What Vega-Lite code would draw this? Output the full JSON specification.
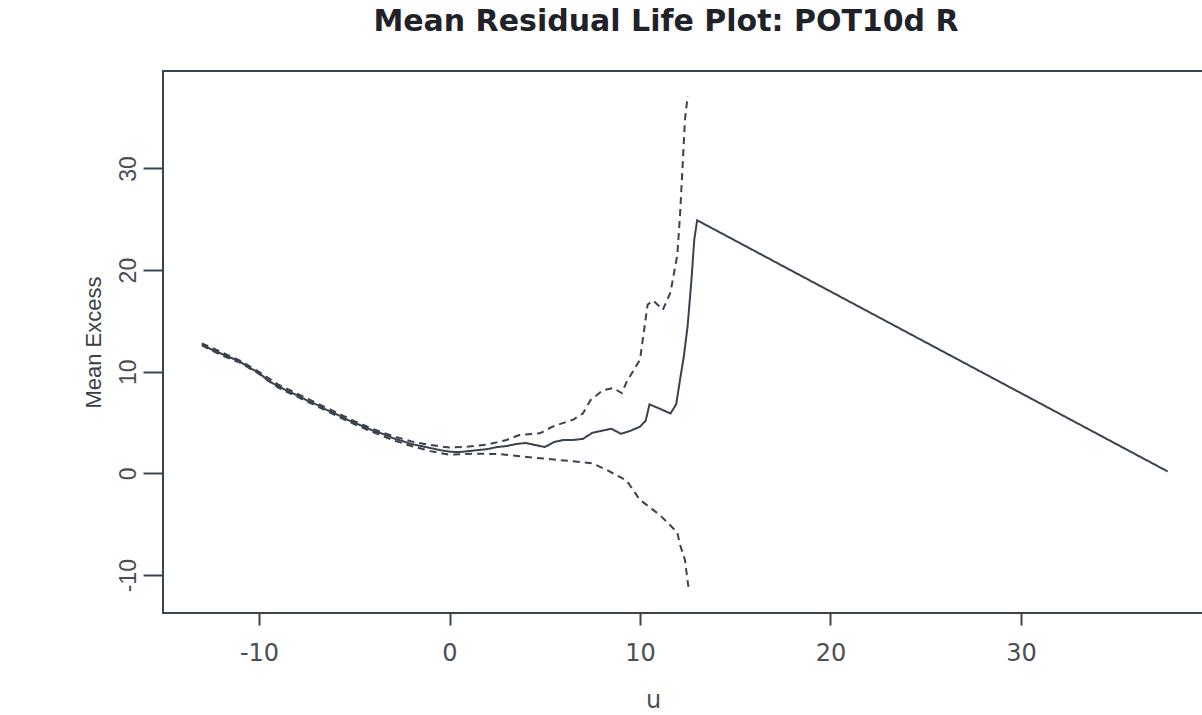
{
  "$schema": "https://vega.github.io/schema/vega-lite/v6.json",
  "autosize": "none",
  "width": 1050,
  "height": 542,
  "padding": {"left": 163, "top": 71, "right": 0, "bottom": 102},
  "background": "white",
  "config": {
    "view": {"stroke": "#3a4450", "strokeWidth": 2},
    "axis": {"grid": false, "domain": false, "tickColor": "#3a4450", "tickWidth": 2}
  },
  "title": {
    "text": "Mean Residual Life Plot: POT10d R",
    "font": "DejaVu Sans",
    "fontWeight": "bold",
    "fontSize": 30,
    "color": "#1f2329",
    "anchor": "middle",
    "dx": -22,
    "baseline": "alphabetic",
    "offset": 10
  },
  "data": {
    "values": [
      {"u": -13.0, "v": 12.7, "s": "me"},
      {"u": -12.5, "v": 12.2, "s": "me"},
      {"u": -12.0, "v": 11.8, "s": "me"},
      {"u": -11.5, "v": 11.4, "s": "me"},
      {"u": -11.0, "v": 11.0, "s": "me"},
      {"u": -10.5, "v": 10.4, "s": "me"},
      {"u": -10.0, "v": 9.9, "s": "me"},
      {"u": -9.5, "v": 9.1, "s": "me"},
      {"u": -9.0, "v": 8.6, "s": "me"},
      {"u": -8.5, "v": 8.1, "s": "me"},
      {"u": -8.0, "v": 7.7, "s": "me"},
      {"u": -7.5, "v": 7.2, "s": "me"},
      {"u": -7.0, "v": 6.8, "s": "me"},
      {"u": -6.5, "v": 6.3, "s": "me"},
      {"u": -6.0, "v": 5.9, "s": "me"},
      {"u": -5.5, "v": 5.4, "s": "me"},
      {"u": -5.0, "v": 5.0, "s": "me"},
      {"u": -4.5, "v": 4.6, "s": "me"},
      {"u": -4.0, "v": 4.2, "s": "me"},
      {"u": -3.5, "v": 3.9, "s": "me"},
      {"u": -3.0, "v": 3.5, "s": "me"},
      {"u": -2.5, "v": 3.2, "s": "me"},
      {"u": -2.0, "v": 2.9, "s": "me"},
      {"u": -1.5, "v": 2.7, "s": "me"},
      {"u": -1.0, "v": 2.5, "s": "me"},
      {"u": -0.5, "v": 2.3, "s": "me"},
      {"u": 0.0, "v": 2.15, "s": "me"},
      {"u": 0.5, "v": 2.1, "s": "me"},
      {"u": 1.0, "v": 2.2, "s": "me"},
      {"u": 1.5, "v": 2.3, "s": "me"},
      {"u": 2.0, "v": 2.4, "s": "me"},
      {"u": 2.5, "v": 2.6, "s": "me"},
      {"u": 3.0, "v": 2.7, "s": "me"},
      {"u": 3.5, "v": 2.9, "s": "me"},
      {"u": 4.0, "v": 3.0, "s": "me"},
      {"u": 4.5, "v": 2.8, "s": "me"},
      {"u": 5.0, "v": 2.6, "s": "me"},
      {"u": 5.5, "v": 3.1, "s": "me"},
      {"u": 6.0, "v": 3.3, "s": "me"},
      {"u": 6.5, "v": 3.3, "s": "me"},
      {"u": 7.0, "v": 3.4, "s": "me"},
      {"u": 7.5, "v": 4.0, "s": "me"},
      {"u": 8.0, "v": 4.2, "s": "me"},
      {"u": 8.5, "v": 4.4, "s": "me"},
      {"u": 9.0, "v": 3.9, "s": "me"},
      {"u": 9.5, "v": 4.2, "s": "me"},
      {"u": 10.0, "v": 4.6, "s": "me"},
      {"u": 10.3, "v": 5.2, "s": "me"},
      {"u": 10.5, "v": 6.8, "s": "me"},
      {"u": 11.0, "v": 6.4, "s": "me"},
      {"u": 11.6, "v": 5.9, "s": "me"},
      {"u": 11.9, "v": 6.8, "s": "me"},
      {"u": 12.1, "v": 9.2, "s": "me"},
      {"u": 12.3, "v": 11.5, "s": "me"},
      {"u": 12.5, "v": 14.5, "s": "me"},
      {"u": 12.7, "v": 19.0, "s": "me"},
      {"u": 12.85, "v": 23.0, "s": "me"},
      {"u": 13.0, "v": 24.9, "s": "me"},
      {"u": 20.0, "v": 17.9, "s": "me"},
      {"u": 30.0, "v": 7.9, "s": "me"},
      {"u": 37.7, "v": 0.2, "s": "me"},

      {"u": -13.0, "v": 12.8, "s": "hi"},
      {"u": -12.0, "v": 11.95, "s": "hi"},
      {"u": -11.0, "v": 11.1, "s": "hi"},
      {"u": -10.0, "v": 10.0, "s": "hi"},
      {"u": -9.0, "v": 8.75, "s": "hi"},
      {"u": -8.0, "v": 7.85, "s": "hi"},
      {"u": -7.0, "v": 6.95, "s": "hi"},
      {"u": -6.0, "v": 6.05, "s": "hi"},
      {"u": -5.0, "v": 5.15, "s": "hi"},
      {"u": -4.0, "v": 4.35, "s": "hi"},
      {"u": -3.0, "v": 3.7, "s": "hi"},
      {"u": -2.0, "v": 3.15, "s": "hi"},
      {"u": -1.0, "v": 2.8, "s": "hi"},
      {"u": 0.0, "v": 2.55, "s": "hi"},
      {"u": 1.0, "v": 2.65, "s": "hi"},
      {"u": 2.0, "v": 2.85, "s": "hi"},
      {"u": 3.0, "v": 3.3, "s": "hi"},
      {"u": 3.7, "v": 3.8, "s": "hi"},
      {"u": 4.75, "v": 3.95, "s": "hi"},
      {"u": 5.4, "v": 4.6, "s": "hi"},
      {"u": 6.5, "v": 5.3, "s": "hi"},
      {"u": 7.0, "v": 5.9, "s": "hi"},
      {"u": 7.4, "v": 7.2, "s": "hi"},
      {"u": 8.06, "v": 8.2, "s": "hi"},
      {"u": 8.6, "v": 8.4, "s": "hi"},
      {"u": 9.04, "v": 7.9, "s": "hi"},
      {"u": 9.3, "v": 9.0, "s": "hi"},
      {"u": 10.0, "v": 11.2, "s": "hi"},
      {"u": 10.4, "v": 16.6, "s": "hi"},
      {"u": 10.7, "v": 17.0, "s": "hi"},
      {"u": 11.2, "v": 16.1, "s": "hi"},
      {"u": 11.6, "v": 17.8, "s": "hi"},
      {"u": 11.96, "v": 21.5, "s": "hi"},
      {"u": 12.1, "v": 25.4, "s": "hi"},
      {"u": 12.2, "v": 28.9, "s": "hi"},
      {"u": 12.36, "v": 34.8, "s": "hi"},
      {"u": 12.5, "v": 37.1, "s": "hi"},

      {"u": -13.0, "v": 12.6, "s": "lo"},
      {"u": -12.0, "v": 11.65, "s": "lo"},
      {"u": -11.0, "v": 10.9, "s": "lo"},
      {"u": -10.0, "v": 9.8, "s": "lo"},
      {"u": -9.0, "v": 8.45, "s": "lo"},
      {"u": -8.0, "v": 7.55, "s": "lo"},
      {"u": -7.0, "v": 6.65, "s": "lo"},
      {"u": -6.0, "v": 5.75, "s": "lo"},
      {"u": -5.0, "v": 4.85, "s": "lo"},
      {"u": -4.0, "v": 4.05, "s": "lo"},
      {"u": -3.0, "v": 3.3, "s": "lo"},
      {"u": -2.0, "v": 2.7, "s": "lo"},
      {"u": -1.0, "v": 2.2, "s": "lo"},
      {"u": 0.0, "v": 1.85, "s": "lo"},
      {"u": 1.2, "v": 1.95, "s": "lo"},
      {"u": 2.65, "v": 1.9, "s": "lo"},
      {"u": 4.75, "v": 1.5, "s": "lo"},
      {"u": 6.5, "v": 1.2, "s": "lo"},
      {"u": 7.5, "v": 1.0, "s": "lo"},
      {"u": 8.3, "v": 0.3, "s": "lo"},
      {"u": 9.3, "v": -0.7, "s": "lo"},
      {"u": 10.0, "v": -2.6, "s": "lo"},
      {"u": 10.5, "v": -3.3, "s": "lo"},
      {"u": 11.05, "v": -4.1, "s": "lo"},
      {"u": 11.96, "v": -5.8, "s": "lo"},
      {"u": 12.1, "v": -7.0, "s": "lo"},
      {"u": 12.36, "v": -8.5, "s": "lo"},
      {"u": 12.57, "v": -11.6, "s": "lo"}
    ]
  },
  "mark": {"type": "line", "strokeWidth": 2, "color": "#39424e", "clip": true},
  "encoding": {
    "x": {
      "field": "u", "type": "quantitative",
      "scale": {"domain": [-15.04, 40.08], "nice": false, "zero": false},
      "axis": {
        "values": [-10, 0, 10, 20, 30],
        "labelExpr": "datum.value < 0 ? '-' + abs(datum.value) : '' + datum.value",
        "tickSize": 12,
        "labelPadding": 16,
        "labelFont": "DejaVu Sans",
        "labelFontSize": 24,
        "labelColor": "#4a4f55",
        "labelBaseline": "top",
        "title": "u",
        "titleFont": "DejaVu Sans",
        "titleFontWeight": "normal",
        "titleFontSize": 24,
        "titleColor": "#4a4f55",
        "titleX": 490,
        "titleY": 94,
        "titleBaseline": "alphabetic",
        "titleAnchor": null
      }
    },
    "y": {
      "field": "v", "type": "quantitative",
      "scale": {"domain": [-13.72, 39.58], "nice": false, "zero": false},
      "axis": {
        "values": [-10, 0, 10, 20, 30],
        "labelExpr": "datum.value < 0 ? '-' + abs(datum.value) : '' + datum.value",
        "tickSize": 20,
        "labelAngle": -90,
        "labelAlign": "center",
        "labelBaseline": "alphabetic",
        "labelPadding": 8,
        "labelFont": "Liberation Sans",
        "labelFontSize": 23,
        "labelColor": "#4a4f55",
        "title": "Mean Excess",
        "titleFont": "Liberation Sans",
        "titleFontWeight": "normal",
        "titleFontSize": 22,
        "titleColor": "#3a3f45",
        "titleAngle": -90,
        "titleX": -63,
        "titleY": 271,
        "titleAlign": "center",
        "titleBaseline": "alphabetic"
      }
    },
    "detail": {"field": "s", "type": "nominal"},
    "strokeDash": {
      "field": "s", "type": "nominal",
      "scale": {"domain": ["me", "hi", "lo"], "range": [[1, 0], [7, 5], [7, 5]]},
      "legend": null
    }
  }
}
